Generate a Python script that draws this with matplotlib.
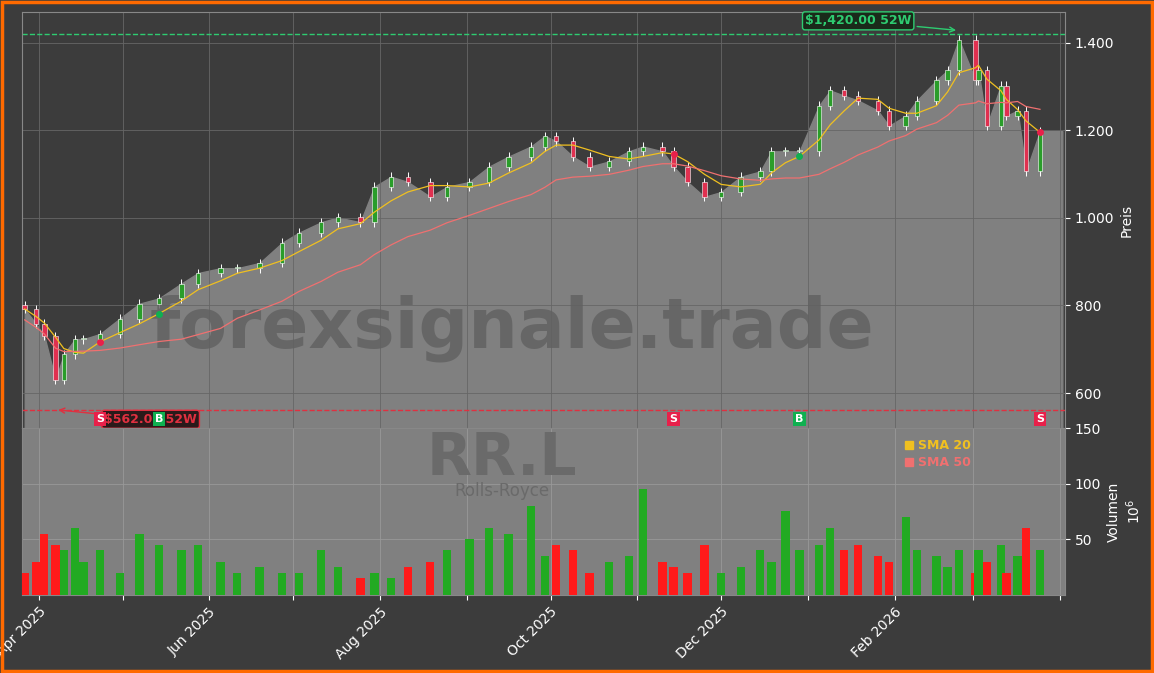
import matplotlib
matplotlib.use("Agg")
import matplotlib.pyplot as plt
import matplotlib.dates as mdates
import matplotlib.ticker as mticker
import pandas as pd
import numpy as np

dates = ["2025-03-27", "2025-03-31", "2025-04-03", "2025-04-07", "2025-04-10", "2025-04-14",
         "2025-04-17", "2025-04-23", "2025-04-30", "2025-05-07", "2025-05-14", "2025-05-22",
         "2025-05-28", "2025-06-05", "2025-06-11", "2025-06-19", "2025-06-27", "2025-07-03",
         "2025-07-11", "2025-07-17", "2025-07-25", "2025-07-30", "2025-08-05", "2025-08-11",
         "2025-08-19", "2025-08-25", "2025-09-02", "2025-09-09", "2025-09-16", "2025-09-24",
         "2025-09-29", "2025-10-03", "2025-10-09", "2025-10-15", "2025-10-22", "2025-10-29",
         "2025-11-03", "2025-11-10", "2025-11-14", "2025-11-19", "2025-11-25", "2025-12-01",
         "2025-12-08", "2025-12-15", "2025-12-19", "2025-12-24", "2025-12-29", "2026-01-05",
         "2026-01-09", "2026-01-14", "2026-01-19", "2026-01-26", "2026-01-30", "2026-02-05",
         "2026-02-09", "2026-02-16", "2026-02-20", "2026-02-24", "2026-03-02", "2026-03-03",
         "2026-03-06", "2026-03-11", "2026-03-13", "2026-03-17", "2026-03-20", "2026-03-25"]
closes = [792, 758, 730, 630, 688, 723, 723, 735, 770, 804, 816, 850, 874, 885, 885, 897,
          943, 966, 990, 1001, 990, 1071, 1094, 1082, 1048, 1071, 1082, 1117, 1140, 1163,
          1187, 1175, 1140, 1117, 1129, 1152, 1163, 1152, 1117, 1082, 1048, 1059, 1094, 1106,
          1152, 1152, 1152, 1256, 1291, 1279, 1268, 1245, 1210, 1233, 1268, 1314, 1337, 1407,
          1314, 1337, 1210, 1302, 1233, 1245, 1106, 1198]
volumes = [20, 30, 55, 45, 40, 60, 30, 40, 20, 55, 45, 40, 45, 30, 20, 25, 20, 20, 40, 25,
           15, 20, 15, 25, 30, 40, 50, 60, 55, 80, 35, 45, 40, 20, 30, 35, 95, 30, 25, 20,
           45, 20, 25, 40, 30, 75, 40, 45, 60, 40, 45, 35, 30, 70, 40, 35, 25, 40, 20, 40,
           30, 45, 20, 35, 60, 40]
signals = [("2025-04-23", "S"), ("2025-05-14", "B"), ("2025-11-14", "S"),
           ("2025-12-29", "B"), ("2026-03-25", "S")]
high_52w, low_52w = 1420, 562
high_date, low_date = "2026-02-24", "2025-04-07"

df = pd.DataFrame({"close": closes, "vol": volumes}, index=pd.to_datetime(dates))
df["open"] = df["close"].shift(1).fillna(800)
df["sma20"] = df["close"].rolling(4, min_periods=1).mean()
df["sma50"] = df["close"].rolling(11, min_periods=1).mean() - 25

BG = "#3c3c3c"
FILL = "#808080"
d2n = lambda s: mdates.date2num(pd.Timestamp(s))

fig = plt.figure(figsize=(11.54, 6.73), dpi=100, facecolor=BG)
fig.patches.append(plt.Rectangle((0.002, 0.003), 0.996, 0.994, transform=fig.transFigure,
                                 fill=False, edgecolor="#ff6a00", linewidth=2.5))
ax = fig.add_axes([0.019, 0.364, 0.904, 0.618], facecolor=BG)
axv = fig.add_axes([0.019, 0.116, 0.904, 0.248], facecolor=FILL, sharex=ax)

x = mdates.date2num(df.index)
ext_x = np.append(x, d2n("2026-04-02"))
ext_c = np.append(df["close"].values, df["close"].values[-1])
ax.fill_between(ext_x, ext_c, 500, color=FILL, zorder=1)
for xi, o, c in zip(x, df["open"], df["close"]):
    col = "#2a9d2a" if c >= o else "#e03050"
    ax.vlines(xi, min(o, c) - 10, max(o, c) + 10, color="white", linewidth=0.7, zorder=2)
    ax.bar(xi, abs(c - o) or 2, bottom=min(o, c), width=1.6, color=col,
           edgecolor="white", linewidth=0.4, zorder=3)
ax.plot(x, df["sma20"], color="#f0c020", linewidth=0.9, zorder=4)
ax.plot(x, df["sma50"], color="#f07070", linewidth=0.9, zorder=4)
ax.axhline(high_52w, color="#2ecc71", linestyle="--", linewidth=1)
ax.axhline(low_52w, color="#e03040", linestyle="--", linewidth=1)
ax.annotate("$1,420.00 52W", xy=(d2n(high_date), high_52w + 8),
            xytext=(d2n("2026-01-19"), 1450), color="#2ecc71",
            fontsize=9, fontweight="bold", ha="center", va="center",
            bbox=dict(boxstyle="round,pad=0.2", fc="#1a2a1a", ec="#2ecc71"),
            arrowprops=dict(arrowstyle="->", color="#2ecc71"))
ax.annotate("$562.00 52W", xy=(d2n(low_date), low_52w),
            xytext=(d2n("2025-05-11"), 540), color="#e03040",
            fontsize=9, fontweight="bold", ha="center", va="center", zorder=5,
            bbox=dict(boxstyle="round,pad=0.2", fc="#2a1a1a", ec="#e03040"),
            arrowprops=dict(arrowstyle="->", color="#e03040"))
for d, s in signals:
    xd = d2n(d)
    ax.text(xd, 540, s, color="white", fontsize=8, fontweight="bold", ha="center", va="center",
            zorder=6,
            bbox=dict(boxstyle="square,pad=0.2", fc="#e8204a" if s == "S" else "#10b050", ec="none"))
    ax.plot(xd, df["sma20"].asof(pd.Timestamp(d)), "o", ms=4,
            color="#e8204a" if s == "S" else "#10b050", zorder=5)
ax.text(0.47, 0.24, "forexsignale.trade", transform=ax.transAxes, fontsize=50,
        fontweight="bold", color="#606060", alpha=0.8, ha="center", va="center", zorder=2)
ax.set_ylim(520, 1470)
ax.yaxis.tick_right()
ax.yaxis.set_label_position("right")
ax.set_ylabel("Preis", color="white")
ax.yaxis.set_major_formatter(mticker.FuncFormatter(lambda v, p: f"{v:,.0f}".replace(",", ".")))
ax.set_yticks([600, 800, 1000, 1200, 1400])
ax.grid(color="#666666", linewidth=0.6)
ax.tick_params(colors="white", labelbottom=False)

cols = ["#22aa22" if c >= o else "#ff1a1a" for o, c in zip(df["open"], df["close"])]
axv.bar(x, df["vol"], width=3.0, color=cols, zorder=3)
axv.text(0.46, 0.82, "RR.L", transform=axv.transAxes, fontsize=42, fontweight="bold",
         color="#6a6a6a", ha="center", va="center", zorder=2)
axv.text(0.46, 0.62, "Rolls-Royce", transform=axv.transAxes, fontsize=12,
         color="#6a6a6a", ha="center", va="center", zorder=2)
axv.plot([], [], "s", color="#f0c020", label="SMA 20")
axv.plot([], [], "s", color="#f07070", label="SMA 50")
leg = axv.legend(loc="upper right", bbox_to_anchor=(0.92, 1.0), frameon=False,
                 handlelength=0.6, handletextpad=0.4, fontsize=9, labelspacing=0.3)
for t, c in zip(leg.get_texts(), ["#f0c020", "#f07070"]):
    t.set_color(c)
    t.set_fontweight("bold")
axv.set_ylim(0, 150)
axv.set_yticks([50, 100, 150])
axv.yaxis.tick_right()
axv.yaxis.set_label_position("right")
axv.set_ylabel("Volumen\n$10^6$", color="white")
axv.grid(color="#999999", linewidth=0.6)
axv.tick_params(colors="white")


def month_label(v, p):
    d = mdates.num2date(v)
    if d.month % 2 == 0 and not (d.year == 2026 and d.month == 4):
        return d.strftime("%b %Y")
    return ""


axv.xaxis.set_major_locator(mdates.MonthLocator())
axv.xaxis.set_major_formatter(mticker.FuncFormatter(month_label))
axv.set_xlim(d2n("2025-03-26"), d2n("2026-04-03"))
plt.setp(axv.get_xticklabels(), rotation=45, ha="right", rotation_mode="anchor")
for a in (ax, axv):
    for sp in a.spines.values():
        sp.set_color("#888888")

fig.savefig("out.png", facecolor=BG)
